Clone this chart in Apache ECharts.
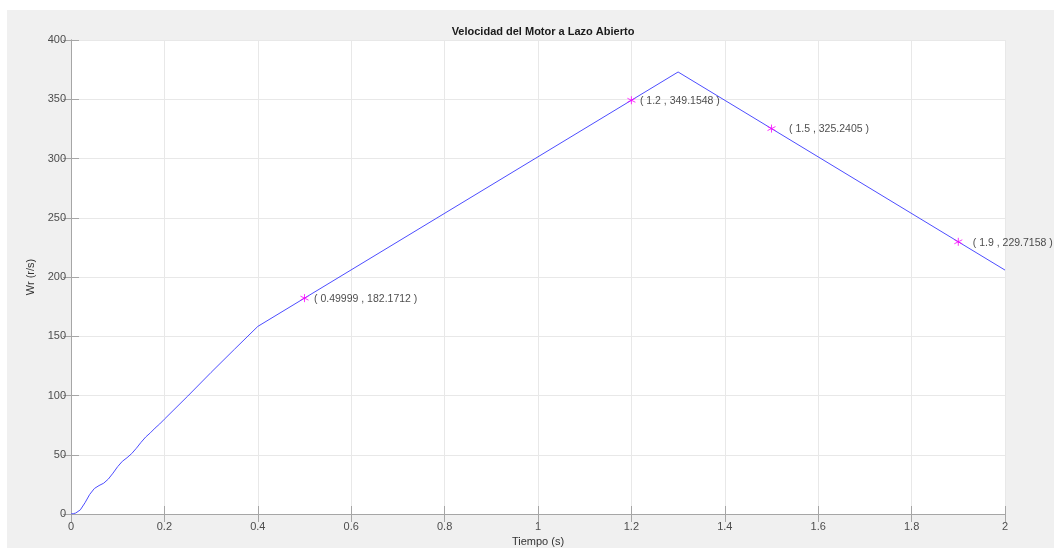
<!DOCTYPE html>
<html>
<head>
<meta charset="utf-8">
<script src="https://cdn.jsdelivr.net/npm/echarts@6/dist/echarts.min.js"></script>
<style>
html,body{margin:0;padding:0;background:#fff;}
#chart{width:1054px;height:548px;}
</style>
</head>
<body>
<div id="chart"></div>
<script>
// ---- data ----
const chartTitle = 'Velocidad del Motor a Lazo Abierto';
const xName = 'Tiempo (s)';
const yName = 'Wr (r/s)';
const timeS = [0, 0.005, 0.01, 0.02, 0.03, 0.04, 0.05, 0.06, 0.07, 0.08, 0.09, 0.1, 0.11, 0.12, 0.13, 0.14, 0.15, 0.16, 0.17, 0.18, 0.19, 0.2, 0.25, 0.3, 0.35, 0.4, 0.5, 1.2, 1.3, 1.5, 1.9, 2.0];
const speedW = [0, 0.3, 0.8, 3.5, 9.5, 16.5, 21.5, 24, 26, 29.5, 34.5, 40, 44.5, 47.5, 51, 55.5, 60.5, 65, 68.5, 72.5, 76, 80, 99.5, 119.5, 139, 158.3, 182.17, 349.15, 373.0, 325.24, 229.72, 205.84];
const markT = [0.49999, 1.2, 1.5, 1.9];
const markW = [182.1712, 349.1548, 325.2405, 229.7158];

// ---- styling ----
const labelDx = [1, 0, 9, 6];
const axisCol = '#a6a6a6';
const textCol = '#4d4d4d';
const gridCol = '#e8e8e8';
const font = 'Liberation Sans, Arial, sans-serif';

const chart = echarts.init(document.getElementById('chart'));

const astPath = 'path://M0,-5L0,5M-4.33,-2.5L4.33,2.5M-4.33,2.5L4.33,-2.5';

const markerData = markT.map((t, i) => ({
  value: [t, markW[i]],
  label: {offset: [labelDx[i], 1]}
}));

const baseAxis = {
  type: 'value',
  axisLine: {show: true, lineStyle: {color: axisCol, width: 1}},
  axisTick: {show: true, inside: true, length: 8, lineStyle: {color: axisCol}},
};

chart.setOption({
  animation: false,
  backgroundColor: '#fff',
  textStyle: {fontFamily: font},
  graphic: [{
    type: 'rect', z: -100, silent: true,
    shape: {x: 7, y: 10, width: 1047, height: 538},
    style: {fill: '#f0f0f0'}
  }],
  title: {
    text: chartTitle,
    left: 538, top: 21, textAlign: 'center',
    textStyle: {fontFamily: font, fontSize: 11, fontWeight: 'bold', color: '#1a1a1a'}
  },
  grid: {
    left: 71, right: 49, top: 40, bottom: 34,
    outerBoundsMode: 'none', containLabel: false,
    show: true, backgroundColor: '#ffffff', borderWidth: 0
  },
  xAxis: [
    Object.assign({}, baseAxis, {
      position: 'bottom', min: 0, max: 2, interval: 0.2,
      name: xName, nameLocation: 'middle', nameGap: 21,
      nameTextStyle: {fontFamily: font, fontSize: 11, color: '#333'},
      axisLabel: {show: true, margin: 7, fontSize: 11, color: textCol, fontFamily: font},
      splitLine: {show: true, lineStyle: {color: gridCol, width: 1}}
    }),
    Object.assign({}, baseAxis, {
      position: 'top', min: 0, max: 2, interval: 0.2,
      axisLabel: {show: false}, splitLine: {show: false}
    })
  ],
  yAxis: [
    Object.assign({}, baseAxis, {
      position: 'left', min: 0, max: 400, interval: 50,
      name: yName, nameLocation: 'middle', nameGap: 16, nameRotate: 90,
      nameTextStyle: {fontFamily: font, fontSize: 11, color: '#333'},
      axisLabel: {show: true, margin: 5, fontSize: 11, color: textCol, fontFamily: font},
      splitLine: {show: true, lineStyle: {color: gridCol, width: 1}}
    }),
    Object.assign({}, baseAxis, {
      position: 'right', min: 0, max: 400, interval: 50,
      axisLabel: {show: false}, splitLine: {show: false}
    })
  ],
  series: [
    {
      type: 'line',
      data: timeS.map((t, i) => [t, speedW[i]]),
      showSymbol: false,
      symbol: 'none',
      lineStyle: {color: '#4d4dff', width: 1},
      z: 2
    },
    {
      type: 'scatter',
      data: markerData,
      symbol: astPath,
      symbolSize: 8,
      itemStyle: {color: 'rgba(0,0,0,0)', borderColor: '#ff00ff', borderWidth: 1},
      label: {
        show: true, position: 'right', distance: 4,
        fontFamily: font, fontSize: 10.5, color: '#1a1a1a',
        formatter: p => '( ' + p.value[0] + ' , ' + p.value[1] + ' )'
      },
      z: 3
    }
  ]
});
</script>
</body>
</html>
